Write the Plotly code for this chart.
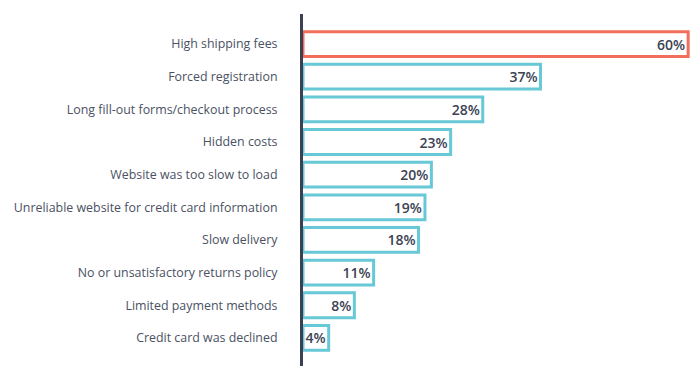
import plotly.graph_objects as go

categories = [
    "High shipping fees",
    "Forced registration",
    "Long fill-out forms/checkout process",
    "Hidden costs",
    "Website was too slow to load",
    "Unreliable website for credit card information",
    "Slow delivery",
    "No or unsatisfactory returns policy",
    "Limited payment methods",
    "Credit card was declined",
]
values = [60, 37, 28, 23, 20, 19, 18, 11, 8, 4]
labels = [f"{v}%" for v in values]
edge_colors = ["#f26d5b"] + ["#67c8d6"] * 9

fig = go.Figure(go.Bar(
    x=values,
    y=categories,
    orientation="h",
    width=0.76,
    marker=dict(color="white", line=dict(color=edge_colors, width=3)),
    text=labels,
    textposition="inside",
    insidetextanchor="end",
    constraintext="none",
    textfont=dict(family="Open Sans, sans-serif", size=14, color="#3b4354", weight=600),
    hoverinfo="skip",
))

fig.update_layout(
    width=700, height=378,
    margin=dict(l=303, r=8, t=14, b=12),
    paper_bgcolor="white", plot_bgcolor="white",
    showlegend=False,
)
fig.update_xaxes(range=[0, 60.6], visible=False, showgrid=False, zeroline=False)
fig.update_yaxes(
    type="category",
    range=[9.86, -0.92],
    showline=True, linecolor="#3a4152", linewidth=3,
    showgrid=False, zeroline=False, ticks="",
    ticklabelstandoff=20,
    tickfont=dict(family="Open Sans, sans-serif", size=12.4, color="#4a5163"),
)

fig.write_html("out.html", config={"displayModeBar": False},
               post_script="document.body.style.margin='0';")
